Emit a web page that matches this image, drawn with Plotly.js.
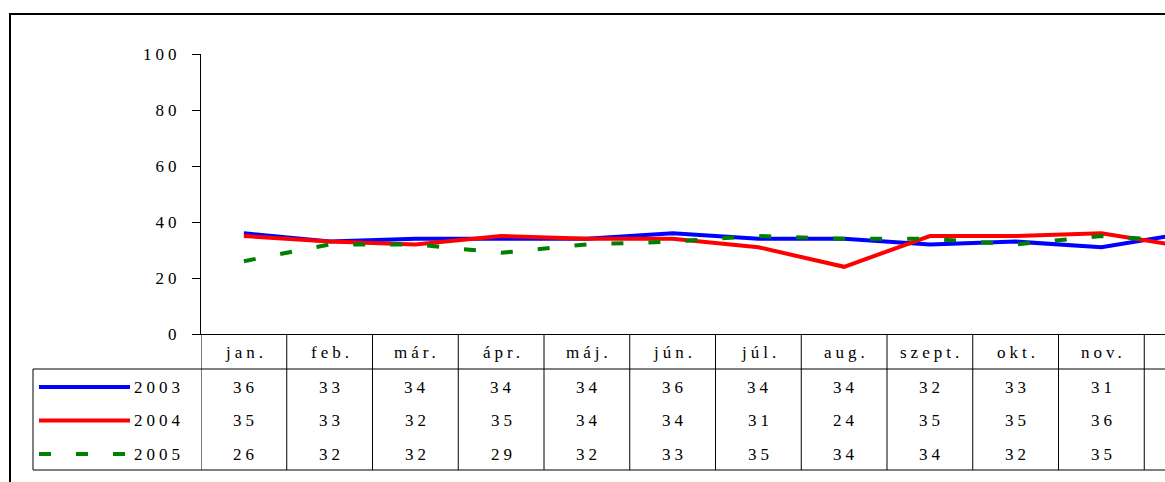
<!DOCTYPE html>
<html>
<head>
<meta charset="utf-8">
<script src="https://cdn.plot.ly/plotly-3.0.1.min.js"></script>
<style>
  html, body { margin: 0; padding: 0; overflow: hidden; background: #fff; width: 1165px; height: 482px; }
  #chart .main-svg text { letter-spacing: 4px; }
</style>
</head>
<body>
<div id="chart"></div>
<script>
const months = ['jan.', 'feb.', 'már.', 'ápr.', 'máj.', 'jún.', 'júl.', 'aug.', 'szept.', 'okt.', 'nov.', 'dec.'];
const years = ['2003', '2004', '2005'];
const values2003 = [36, 33, 34, 34, 34, 36, 34, 34, 32, 33, 31, 36];
const values2004 = [35, 33, 32, 35, 34, 34, 31, 24, 35, 35, 36, 31];
const values2005 = [26, 32, 32, 29, 32, 33, 35, 34, 34, 32, 35, 33];
const yTicks = [0, 20, 40, 60, 80, 100];

const seriesValues = [values2003, values2004, values2005];
const colors = ['#0000ff', '#ff0000', '#008000'];
const dashes = ['solid', 'solid', '12px,25px'];

// pixel geometry helpers (layout: margin l=201, plot width 1029, top 54, height 280)
const PL = 201, PW = 1029, PT = 54, PH = 280;
const px = v => (v - PL) / PW;          // page x -> paper x
const py = v => (PT + PH - v) / PH;     // page y -> paper y

const FONT = 'Liberation Serif, Times New Roman, serif';

const traces = seriesValues.map((vals, i) => ({
  type: 'scatter', mode: 'lines', x: months, y: vals, name: years[i],
  line: { color: colors[i], width: 4, dash: dashes[i] },
  cliponaxis: false, hoverinfo: 'skip'
}));

const shapes = [];
const annotations = [];
const n = months.length;

// outer frame
shapes.push({ type: 'rect', xref: 'paper', yref: 'paper', x0: px(10), x1: 2, y0: py(14), y1: -1,
  line: { color: '#000', width: 2 }, fillcolor: 'rgba(0,0,0,0)' });

// table horizontal lines
shapes.push({ type: 'line', xref: 'paper', yref: 'paper', x0: px(33), x1: 1.2, y0: py(369), y1: py(369), line: { color: '#000', width: 1 } });
shapes.push({ type: 'line', xref: 'paper', yref: 'paper', x0: px(33), x1: 1.2, y0: py(470), y1: py(470), line: { color: '#000', width: 1 } });
// left legend box vertical
shapes.push({ type: 'line', xref: 'paper', yref: 'paper', x0: px(33), x1: px(33), y0: py(369), y1: py(470), line: { color: '#000', width: 1 } });
// column boundaries
for (let i = 0; i <= n; i++) {
  shapes.push({ type: 'line', xref: 'x', yref: 'paper', x0: i - 0.5, x1: i - 0.5, y0: py(334), y1: py(470), line: { color: '#000', width: 1 } });
}

const rowY = [py(387), py(420.5), py(454)];
const txtFont = { family: FONT, size: 17, color: '#000' };

// header (month labels)
months.forEach((m, i) => {
  annotations.push({ xref: 'x', yref: 'paper', x: i, y: py(352), text: m, showarrow: false,
    xanchor: 'center', yanchor: 'middle', font: txtFont, xshift: 2 });
});
// values
seriesValues.forEach((vals, r) => {
  vals.forEach((v, i) => {
    annotations.push({ xref: 'x', yref: 'paper', x: i, y: rowY[r], text: String(v), showarrow: false,
      xanchor: 'center', yanchor: 'middle', font: txtFont, xshift: 2 });
  });
  // legend key
  shapes.push({ type: 'line', xref: 'paper', yref: 'paper', x0: px(39), x1: px(130), y0: rowY[r], y1: rowY[r],
    line: { color: colors[r], width: 4, dash: dashes[r] } });
  annotations.push({ xref: 'paper', yref: 'paper', x: px(132), y: rowY[r], text: years[r], showarrow: false,
    xanchor: 'left', yanchor: 'middle', font: txtFont, xshift: 8 });
});

const layout = {
  width: 1240, height: 482,
  margin: { l: PL, r: 1240 - PL - PW, t: PT, b: 482 - PT - PH, pad: 0 },
  paper_bgcolor: '#fff', plot_bgcolor: '#fff',
  showlegend: false,
  xaxis: { type: 'category', range: [-0.5, n - 0.5], showticklabels: false, ticks: '',
    showgrid: false, zeroline: false, showline: true, linecolor: '#000', linewidth: 1, fixedrange: true },
  yaxis: { range: [0, 100], tickvals: yTicks, ticktext: yTicks.map(String), ticks: 'outside', ticklen: 8,
    tickwidth: 1, tickcolor: '#000', showgrid: false, zeroline: false, showline: true, linecolor: '#000',
    linewidth: 1, tickfont: { family: FONT, size: 17, color: '#000' }, ticklabelstandoff: 8, fixedrange: true },
  shapes: shapes,
  annotations: annotations
};

Plotly.newPlot('chart', traces, layout, { staticPlot: true, displayModeBar: false });
</script>
</body>
</html>
